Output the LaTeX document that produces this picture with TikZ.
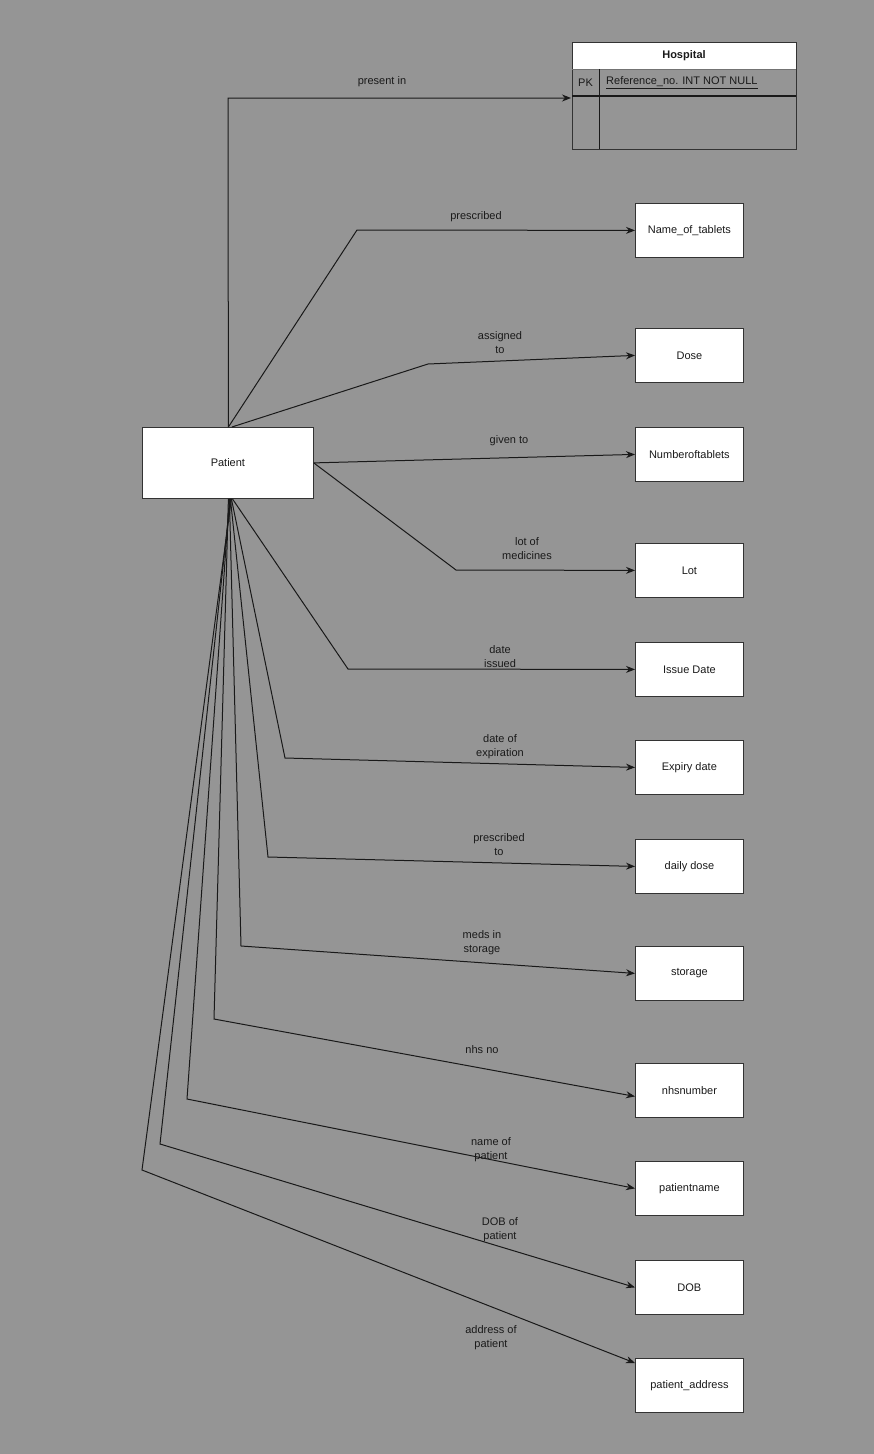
\documentclass[tikz,border=0pt]{standalone}
\usepackage{fontspec}
\setmainfont{Liberation Sans}
\usetikzlibrary{arrows.meta}
\definecolor{bg}{HTML}{959595}
\definecolor{txt}{HTML}{1A1A1A}
\begin{document}
\begin{tikzpicture}[x=1pt,y=-1pt,
  every node/.style={font=\fontsize{11}{13.5}\selectfont,text=txt},
  ent/.style={draw=black!80,fill=white,line width=0.8pt,minimum width=108pt,minimum height=54pt,inner sep=0pt,anchor=north west},
  lbl/.style={align=center,inner sep=0pt},
  conn/.style={draw=black!90,line width=1pt,-{Stealth[length=9pt,width=7pt]}}]
\useasboundingbox[fill=bg] (0,0) rectangle (874,1454);
% Hospital table
\fill[white] (572,42) rectangle (796,69);
\draw[black!80,line width=0.8pt] (572,42) rectangle (796,149);
\draw[black!55,line width=0.8pt] (572,69) -- (796,69);
\draw[black!90,line width=1.2pt] (572,96) -- (796,96);
\draw[black!90,line width=1pt] (599,69) -- (599,149);
\node[font=\fontsize{11}{13}\selectfont\bfseries] (hosp) at (684,56) {Hospital};
\node (pk) at (585.5,83) {PK};
\node[anchor=west,inner sep=0pt] (ref) at (606,83) {\underline{Reference\_no. INT NOT NULL}};
\coordinate (hospin) at (571,98);
% Patient
\node[ent,minimum width=171pt,minimum height=71pt] (pat) at (142,427) {Patient};
% Entities
\node[ent] (n1) at (635,203) {Name\_of\_tablets};
\node[ent] (n2) at (635,328) {Dose};
\node[ent] (n3) at (635,427) {Numberoftablets};
\node[ent] (n4) at (635,543) {Lot};
\node[ent] (n5) at (635,642) {Issue Date};
\node[ent] (n6) at (635,740) {Expiry date};
\node[ent] (n7) at (635,839) {daily dose};
\node[ent] (n8) at (635,946) {storage};
\node[ent] (n9) at (635,1063) {nhsnumber};
\node[ent] (n10) at (635,1161) {patientname};
\node[ent] (n11) at (635,1260) {DOB};
\node[ent] (n12) at (635,1358) {patient\_address};
% connectors
\draw[conn] ([xshift=0.5pt]pat.north) -- (228,98) -- (hospin);
\draw[conn] ([xshift=0.5pt]pat.north) -- (357,230) -- (n1.west);
\draw[conn] ([xshift=4pt]pat.north) -- (428,364) -- (n2.west);
\draw[conn] (pat.east) -- (n3.west);
\draw[conn] (pat.east) -- (456,570) -- (n4.west);
\draw[conn] ([xshift=4.5pt]pat.south) -- (348,669) -- (n5.west);
\draw[conn] ([xshift=3.5pt]pat.south) -- (285,758) -- (n6.west);
\draw[conn] ([xshift=2.5pt]pat.south) -- (268,857) -- (n7.west);
\draw[conn] ([xshift=1.5pt]pat.south) -- (241,946) -- (n8.west);
\draw[conn] ([xshift=0.5pt]pat.south) -- (214,1019) -- ([yshift=-6pt]n9.west);
\draw[conn] ([xshift=1.5pt]pat.south) -- (187,1099) -- (n10.west);
\draw[conn] ([xshift=2.5pt]pat.south) -- (160,1144) -- (n11.west);
\draw[conn] ([xshift=3.5pt]pat.south) -- (142,1170) -- ([yshift=-5pt]n12.north west);
% labels
\node[lbl] (l0) at (382,82) {present in};
\node[lbl] (l1) at (476,217) {prescribed};
\node[lbl] (l2) at (500,342.5) {assigned\\to};
\node[lbl] (l3) at (509,441) {given to};
\node[lbl] (l4) at (527,548.5) {lot of\\medicines};
\node[lbl] (l5) at (500,656.5) {date\\issued};
\node[lbl] (l6) at (500,746.5) {date of\\expiration};
\node[lbl] (l7) at (499,844.5) {prescribed\\to};
\node[lbl] (l8) at (482,942.5) {meds in\\storage};
\node[lbl] (l9) at (482,1050) {nhs no};
\node[lbl] (l10) at (491,1149.5) {name of\\patient};
\node[lbl] (l11) at (500,1229.5) {DOB of\\patient};
\node[lbl] (l12) at (491,1337.5) {address of\\patient};
\end{tikzpicture}
\end{document}
